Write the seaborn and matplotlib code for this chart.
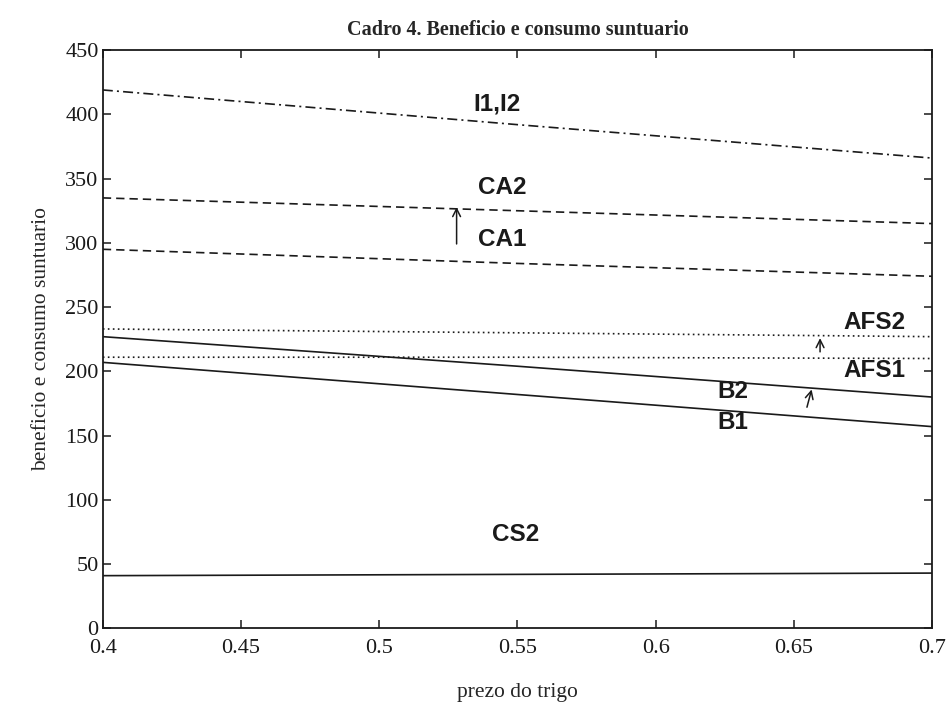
import matplotlib
matplotlib.use("Agg")
import matplotlib.pyplot as plt
import seaborn as sns
import pandas as pd

# Data
x = [0.4, 0.55, 0.7]
I12 = [419, 392, 366]
CA2 = [335, 325, 315]
CA1 = [295, 284, 274]
AFS2 = [233, 230, 227]
AFS1 = [211, 211, 210]
B2 = [227, 204, 180]
B1 = [207, 182, 157]
CS2 = [41, 42, 43]

xticks = [0.4, 0.45, 0.5, 0.55, 0.6, 0.65, 0.7]
yticks = [0, 50, 100, 150, 200, 250, 300, 350, 400, 450]

sns.set_style("ticks")
plt.rcParams['font.family'] = ['Liberation Serif', 'DejaVu Serif']

fig = plt.figure(figsize=(9.52, 7.06), dpi=100)
ax = fig.add_axes([0.108, 0.110, 0.871, 0.819])

series = [
    (I12, (0, (6, 2.5, 1.2, 2.5))),
    (CA2, (0, (5, 3))),
    (CA1, (0, (5, 3))),
    (AFS2, (0, (1, 2))),
    (AFS1, (0, (1, 2))),
    (B2, '-'),
    (B1, '-'),
    (CS2, '-'),
]
for vals, ls in series:
    df = pd.DataFrame({"x": x, "y": vals})
    sns.lineplot(data=df, x="x", y="y", ax=ax, color="#1a1a1a",
                 linewidth=1.2, linestyle=ls)

ax.set_xlim(0.4, 0.7)
ax.set_ylim(0, 450)
ax.set_xticks(xticks)
ax.set_xticklabels([f"{t:g}" for t in xticks])
ax.set_yticks(yticks)
ax.tick_params(direction="in", length=6, width=1.1, labelsize=16,
               top=True, right=True, colors="#1a1a1a", pad=3)
ax.tick_params(axis="x", pad=8)
for s in ax.spines.values():
    s.set_linewidth(1.3)
    s.set_color("#1a1a1a")

ax.set_xlabel("prezo do trigo", fontsize=15.5, labelpad=18)
ax.set_ylabel("beneficio e consumo suntuario", fontsize=15.5, labelpad=10)
ax.set_title("Cadro 4. Beneficio e consumo suntuario", fontsize=14.5,
             fontweight="bold", pad=11)

lab = dict(fontsize=17.5, fontweight="bold", family=["Liberation Sans", "DejaVu Sans"],
           color="#1a1a1a", ha="center", va="center")
ax.text(0.5425, 408, "I1,I2", **lab)
ax.text(0.5444, 343, "CA2", **lab)
ax.text(0.5444, 303, "CA1", **lab)
ax.text(0.679, 238, "AFS2", **lab)
ax.text(0.679, 201, "AFS1", **lab)
ax.text(0.628, 184, "B2", **lab)
ax.text(0.628, 160, "B1", **lab)
ax.text(0.5494, 73, "CS2", **lab)

arr = dict(arrowstyle="->", color="#1a1a1a", lw=1.1, mutation_scale=14)
ax.annotate("", xy=(0.528, 330), xytext=(0.528, 297), arrowprops=arr)
ax.annotate("", xy=(0.6595, 228), xytext=(0.6595, 213), arrowprops=arr)
ax.annotate("", xy=(0.6567, 188), xytext=(0.6545, 170), arrowprops=arr)

fig.savefig("out.png", dpi=100)
